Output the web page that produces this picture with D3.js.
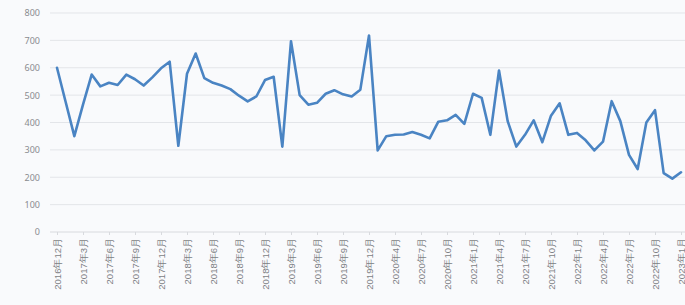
<!DOCTYPE html>
<html>
<head>
<meta charset="utf-8">
<script src="https://cdn.jsdelivr.net/npm/d3@7.9.0/dist/d3.min.js"></script>
<style>
  html, body { margin: 0; padding: 0; background: #f9fafc; }
  svg { display: block; font-family: "Noto Sans CJK SC", "Noto Sans", sans-serif; }
</style>
</head>
<body>
<svg width="685" height="305"></svg>
<script>
const months = [
  '2016年12月',
  '2017年1月', '2017年2月', '2017年3月', '2017年4月', '2017年5月', '2017年6月',
  '2017年7月', '2017年8月', '2017年9月', '2017年10月', '2017年11月', '2017年12月',
  '2018年1月', '2018年2月', '2018年3月', '2018年4月', '2018年5月', '2018年6月',
  '2018年7月', '2018年8月', '2018年9月', '2018年10月', '2018年11月', '2018年12月',
  '2019年1月', '2019年2月', '2019年3月', '2019年4月', '2019年5月', '2019年6月',
  '2019年7月', '2019年8月', '2019年9月', '2019年10月', '2019年11月', '2019年12月',
  '2020年2月', '2020年3月', '2020年4月', '2020年5月', '2020年6月',
  '2020年7月', '2020年8月', '2020年9月', '2020年10月', '2020年11月', '2020年12月',
  '2021年1月', '2021年2月', '2021年3月', '2021年4月', '2021年5月', '2021年6月',
  '2021年7月', '2021年8月', '2021年9月', '2021年10月', '2021年11月', '2021年12月',
  '2022年1月', '2022年2月', '2022年3月', '2022年4月', '2022年5月', '2022年6月',
  '2022年7月', '2022年8月', '2022年9月', '2022年10月', '2022年11月', '2022年12月',
  '2023年1月'
];

const values = [
  600,
  475, 350, 465, 575, 532, 545, 537, 575, 558, 535, 565, 598,
  622, 315, 578, 652, 562, 545, 535, 522, 498, 477, 495, 555,
  567, 312, 697, 500, 465, 472, 505, 518, 503, 495, 520, 718,
  298, 350, 355, 356, 365, 355, 342, 403, 408, 428, 395,
  505, 490, 355, 590, 405, 312, 355, 408, 328, 425, 470, 355,
  362, 335, 298, 330, 478, 405, 282, 230, 400, 445, 215, 195,
  218
];

const yTicks = [0, 100, 200, 300, 400, 500, 600, 700, 800];

const svg = d3.select('svg');

let x = d3.scalePoint().domain(months).range([57, 681]);
let y = d3.scaleLinear().domain([0, 800]).range([232, 13]);

// gridlines
svg.append('g')
  .selectAll('line')
  .data(yTicks.filter((d) => d > 0))
  .join('line')
  .attr('x1', 50)
  .attr('x2', 685)
  .attr('y1', (d) => y(d))
  .attr('y2', (d) => y(d))
  .attr('stroke', '#e3e5e9')
  .attr('stroke-width', 1);

// y axis labels
let yAxis = d3.axisLeft(y).tickValues(yTicks).tickSize(0).tickPadding(0);
svg.append('g')
  .attr('transform', 'translate(40,0)')
  .call(yAxis)
  .call((g) => g.select('.domain').remove())
  .selectAll('text')
  .attr('fill', '#8a8c90')
  .attr('font-size', 9)
  .attr('font-family', '"Noto Sans", "Noto Sans CJK SC", sans-serif');

// x axis
let xAxis = d3.axisBottom(x)
  .tickValues(months.filter((d, i) => i % 3 === 0))
  .tickSize(3)
  .tickPadding(4);

let gx = svg.append('g')
  .attr('transform', `translate(0,${y(0)})`)
  .call(xAxis);

gx.select('.domain')
  .attr('d', 'M50,0H685')
  .attr('stroke', '#d8dade');
gx.selectAll('.tick line').attr('stroke', '#d8dade');
gx.selectAll('.tick text')
  .attr('fill', '#7d7f84')
  .attr('font-size', 9.5)
  .attr('text-anchor', 'end')
  .attr('transform', 'rotate(-90)')
  .attr('x', -6)
  .attr('y', 0)
  .attr('dy', '0.35em');

// line
let line = d3.line()
  .x((d, i) => x(months[i]))
  .y((d) => y(d));

svg.append('path')
  .datum(values)
  .attr('d', line)
  .attr('fill', 'none')
  .attr('stroke', '#4a84c3')
  .attr('stroke-width', 2.6)
  .attr('stroke-linejoin', 'round')
  .attr('stroke-linecap', 'round');
</script>
</body>
</html>
